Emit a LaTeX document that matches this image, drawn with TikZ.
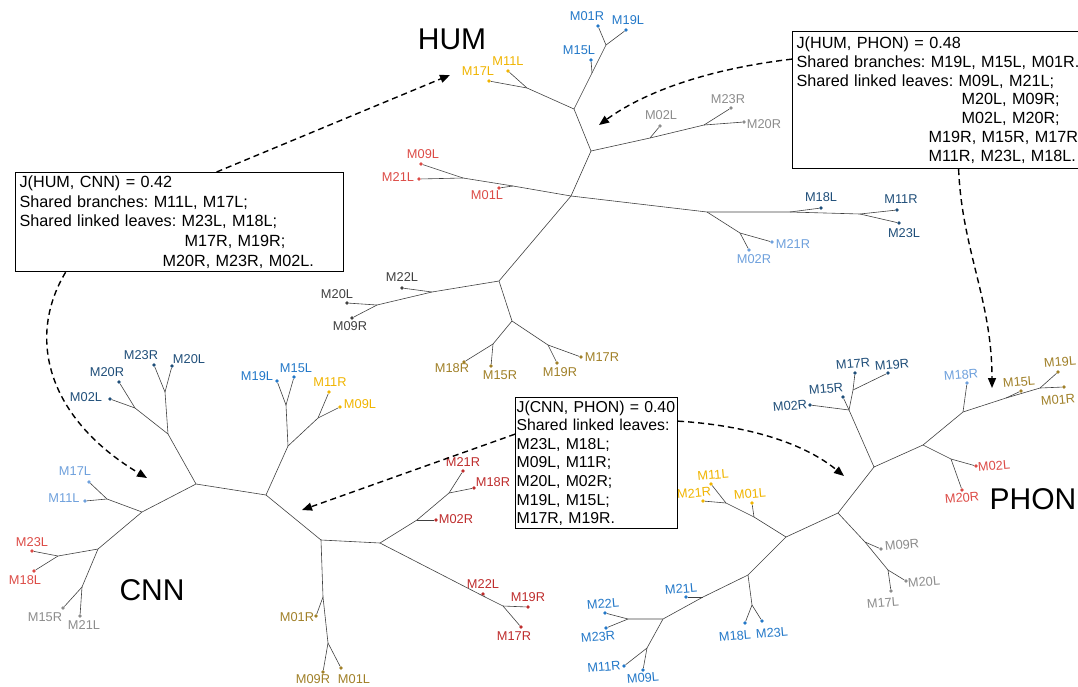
\documentclass[tikz,border=0pt]{standalone}
\usepackage{fontspec}
\setmainfont{Liberation Sans}
\usetikzlibrary{arrows.meta}
\frenchspacing

\definecolor{hblue}{RGB}{35,120,200}
\definecolor{dblue}{RGB}{31,78,121}
\definecolor{lblue}{RGB}{110,160,220}
\definecolor{yel}{RGB}{240,180,0}
\definecolor{gry}{RGB}{140,140,140}
\definecolor{dgry}{RGB}{64,64,64}
\definecolor{lred}{RGB}{220,75,70}
\definecolor{dred}{RGB}{190,45,45}
\definecolor{olv}{RGB}{160,128,40}

\tikzset{
  branch/.style={draw=black!75, line width=0.6pt},
  leafdot/.style={circle, fill=#1, inner sep=0pt, minimum size=3.6pt},
  leaftxt/.style={text=#1, inner sep=0pt, font=\fontsize{12.8}{14}\selectfont},
  treename/.style={inner sep=0pt, font=\fontsize{30}{34}\selectfont},
  jbox/.style={draw, line width=1.2pt, rectangle, align=left, inner xsep=4pt, inner ysep=3pt, anchor=north west, font=\fontsize{16.2}{19.8}\selectfont},
  link/.style={dash pattern=on 6pt off 4pt, line width=1.4pt, -{Triangle[length=10pt,width=8pt]}}
}

\begin{document}
\begin{tikzpicture}[x=1pt,y=-1pt]
\useasboundingbox (0,0) rectangle (1078,686);

% HUM tree
\foreach \n/\x/\y/\lx/\ly/\col in {
  M01R/598/26/587/16/hblue, M19L/626/30/628/20/hblue, M15L/591/60/579/50/hblue,
  M11L/508/71/508/61/yel, M17L/489/81/478/71/yel,
  M02L/660/126/661/115/gry, M23R/731/108/728/99/gry, M20R/744/122/764/124/gry,
  M09L/421/164/423/154/lred, M21L/419/179/398/177/lred, M01L/499/188/487/195/lred,
  M18L/821/208/821/197/dblue, M11R/897/210/901/199/dblue, M23L/899/223/904/233/dblue,
  M21R/772/242/793/244/lblue, M02R/749/250/754/259/lblue,
  M22L/402/288/402/277/dgry, M20L/347/303/337/294/dgry, M09R/352/318/350/326/dgry,
  M18R/464/362/452/368/olv, M15R/491/366/500/375/olv, M19R/557/363/560/372/olv,
  M17R/581/357/602/357/olv}
{
  \node[leafdot=\col] (h\n) at (\x,\y) {};
  \node[leaftxt=\col] (h\n-t) at (\lx,\ly) {\n};
}
\coordinate (h1) at (574,109);
\coordinate (h2) at (606,45);
\coordinate (h3) at (592,73);
\coordinate (hy) at (527,88);
\coordinate (h4) at (591,151);
\coordinate (h5) at (650,138);
\coordinate (h6) at (704,125);
\coordinate (h7) at (571,196);
\coordinate (hr) at (463,178);
\coordinate (hr2) at (513,186);
\coordinate (h8) at (707,212);
\coordinate (hlb) at (740,233);
\coordinate (h9) at (790,212);
\coordinate (h10) at (860,214);
\coordinate (h11) at (499,281);
\coordinate (hg1) at (432,292);
\coordinate (hg2) at (377,305);
\coordinate (h12) at (512,321);
\coordinate (ho1) at (493,344);
\coordinate (ho2) at (548,345);
\draw[branch] (hM17L) -- (hy) -- (h1) -- (h3) -- (h2) -- (hM01R);
\draw[branch] (hy) -- (hM11L);
\draw[branch] (h2) -- (hM19L);
\draw[branch] (h3) -- (hM15L);
\draw[branch] (h1) -- (h4) -- (h5) -- (h6) -- (hM23R);
\draw[branch] (h6) -- (hM20R);
\draw[branch] (h5) -- (hM02L);
\draw[branch] (h4) -- (h7);
\draw[branch] (hM21L) -- (hr) -- (hr2) -- (h7) -- (h8) -- (h9) -- (h10) -- (hM11R);
\draw[branch] (hr) -- (hM09L);
\draw[branch] (hr2) -- (hM01L);
\draw[branch] (h10) -- (hM23L);
\draw[branch] (h9) -- (hM18L);
\draw[branch] (h8) -- (hlb) -- (hM21R);
\draw[branch] (hlb) -- (hM02R);
\draw[branch] (h7) -- (h11) -- (hg1) -- (hg2) -- (hM20L);
\draw[branch] (hg2) -- (hM09R);
\draw[branch] (hg1) -- (hM22L);
\draw[branch] (h11) -- (h12) -- (ho1) -- (hM18R);
\draw[branch] (ho1) -- (hM15R);
\draw[branch] (h12) -- (ho2) -- (hM19R);
\draw[branch] (ho2) -- (hM17R);
\node[treename] (humname) at (452,39) {HUM};

% CNN tree
\foreach \n/\x/\y/\lx/\ly/\col in {
  M23R/154/365/141/355/dblue, M20L/172/366/189/359/dblue, M20R/119/382/107/372/dblue,
  M02L/110/399/86/397/dblue,
  M17L/89/482/75/471/lblue, M11L/85/501/64/498/lblue,
  M23L/32/551/32/542/lred, M18L/34/571/25/580/lred,
  M15R/63/608/45/617/gry, M21L/80/616/84/625/gry,
  M19L/277/381/257/376/hblue, M15L/294/377/296/368/hblue,
  M11R/329/392/330/382/yel, M09L/340/407/360/404/yel,
  M01R/316/616/297/617/olv, M09R/323/672/313/679/olv, M01L/341/668/354/679/olv,
  M02R/436/520/456/519/dred, M21R/463/471/463/462/dred, M18R/474/488/493/482/dred,
  M22L/483/594/483/584/dred, M19R/528/607/528/597/dred, M17R/521/627/514/636/dred}
{
  \node[leafdot=\col] (c\n) at (\x,\y) {};
  \node[leaftxt=\col] (c\n-t) at (\lx,\ly) {\n};
}
\coordinate (cA) at (196,484);
\coordinate (cB) at (266,495);
\coordinate (cC) at (168,434);
\coordinate (cC1) at (165,392);
\coordinate (cC2) at (135,408);
\coordinate (cD) at (142,512);
\coordinate (cD1) at (107,499);
\coordinate (cE) at (98,549);
\coordinate (cE1) at (58,556);
\coordinate (cE2) at (82,587);
\coordinate (cB1) at (288,446);
\coordinate (cB2) at (286,405);
\coordinate (cB3) at (318,418);
\coordinate (cF) at (321,540);
\coordinate (cF1) at (323,597);
\coordinate (cF2) at (328,643);
\coordinate (cG) at (380,543);
\coordinate (cG1) at (417,520);
\coordinate (cG2) at (449,493);
\coordinate (cG3) at (485,597);
\coordinate (cG4) at (503,606);
\draw[branch] (cB) -- (cA) -- (cC) -- (cC1) -- (cM23R);
\draw[branch] (cC1) -- (cM20L);
\draw[branch] (cC) -- (cC2) -- (cM20R);
\draw[branch] (cC2) -- (cM02L);
\draw[branch] (cA) -- (cD) -- (cD1) -- (cM17L);
\draw[branch] (cD1) -- (cM11L);
\draw[branch] (cD) -- (cE) -- (cE1) -- (cM23L);
\draw[branch] (cE1) -- (cM18L);
\draw[branch] (cE) -- (cE2) -- (cM15R);
\draw[branch] (cE2) -- (cM21L);
\draw[branch] (cB) -- (cB1) -- (cB2) -- (cM19L);
\draw[branch] (cB2) -- (cM15L);
\draw[branch] (cB1) -- (cB3) -- (cM11R);
\draw[branch] (cB3) -- (cM09L);
\draw[branch] (cB) -- (cF) -- (cF1) -- (cF2) -- (cM09R);
\draw[branch] (cF2) -- (cM01L);
\draw[branch] (cF1) -- (cM01R);
\draw[branch] (cF) -- (cG) -- (cG1) -- (cG2) -- (cM21R);
\draw[branch] (cG2) -- (cM18R);
\draw[branch] (cG1) -- (cM02R);
\draw[branch] (cG) -- (cG3) -- (cG4) -- (cM19R);
\draw[branch] (cG4) -- (cM17R);
\draw[branch] (cG3) -- (cM22L);
\node[treename] (cnnname) at (152,590) {CNN};

% PHON tree
\foreach \n/\x/\y/\lx/\ly/\col in {
  M02R/810/405/790/406/dblue, M15R/843/397/826/389/dblue, M17R/855/373/853/364/dblue,
  M19R/888/373/892/365/dblue,
  M18R/967/383/961/375/lblue,
  M15L/1021/391/1019/382/olv, M19L/1058/372/1060/362/olv, M01R/1064/387/1058/400/olv,
  M02L/976/466/994/466/lred, M20R/962/490/962/498/lred,
  M09R/881/549/902/545/gry, M20L/906/581/924/582/gry, M17L/891/591/883/603/gry,
  M11L/711/484/713/475/yel, M21R/703/501/694/493/yel, M01L/752/503/750/494/yel,
  M21L/686/597/681/589/hblue, M22L/605/613/603/604/hblue, M23R/606/628/598/637/hblue,
  M11R/624/666/604/667/hblue, M09L/643/670/643/678/hblue, M18L/745/623/735/636/hblue,
  M23L/762/621/772/633/hblue}
{
  \node[leafdot=\col] (p\n) at (\x,\y) {};
  \node[leaftxt=\col, rotate=5] (p\n-t) at (\lx,\ly) {\n};
}
\coordinate (p1) at (874,467);
\coordinate (p2) at (923,445);
\coordinate (p3) at (838,513);
\coordinate (p4) at (786,537);
\coordinate (pA) at (849,410);
\coordinate (pB) at (853,390);
\coordinate (pC) at (963,412);
\coordinate (pD) at (1006,398);
\coordinate (pE) at (1040,388);
\coordinate (pF) at (951,459);
\coordinate (pG) at (865,542);
\coordinate (pH) at (888,570);
\coordinate (pI) at (754,517);
\coordinate (pJ) at (726,503);
\coordinate (pK) at (748,575);
\coordinate (pL) at (752,605);
\coordinate (pM) at (703,597);
\coordinate (pN) at (663,619);
\coordinate (pO) at (628,619);
\coordinate (pP) at (647,648);
\draw[branch] (p2) -- (p1) -- (pA) -- (pB) -- (pM17R);
\draw[branch] (pB) -- (pM19R);
\draw[branch] (pA) -- (pM02R);
\draw[branch] (pA) -- (pM15R);
\draw[branch] (p2) -- (pC) -- (pD) -- (pE) -- (pM19L);
\draw[branch] (pE) -- (pM01R);
\draw[branch] (pD) -- (pM15L);
\draw[branch] (pC) -- (pM18R);
\draw[branch] (p2) -- (pF) -- (pM02L);
\draw[branch] (pF) -- (pM20R);
\draw[branch] (p1) -- (p3) -- (pG) -- (pH) -- (pM20L);
\draw[branch] (pH) -- (pM17L);
\draw[branch] (pG) -- (pM09R);
\draw[branch] (p3) -- (p4) -- (pI) -- (pJ) -- (pM11L);
\draw[branch] (pJ) -- (pM21R);
\draw[branch] (pI) -- (pM01L);
\draw[branch] (p4) -- (pK) -- (pL) -- (pM18L);
\draw[branch] (pL) -- (pM23L);
\draw[branch] (pK) -- (pM) -- (pN) -- (pO) -- (pM22L);
\draw[branch] (pO) -- (pM23R);
\draw[branch] (pM) -- (pM21L);
\draw[branch] (pN) -- (pP) -- (pM11R);
\draw[branch] (pP) -- (pM09L);
\node[treename] (phonname) at (1033,499) {PHON};

% similarity boxes
\node[jbox, text width=320pt, minimum height=99pt] (hcbox) at (15,172)
  {J(HUM, CNN) = 0.42\\
   Shared branches: M11L, M17L;\\
   Shared linked leaves: M23L, M18L;\\
   \hspace*{165pt}M17R, M19R;\\
   \hspace*{143pt}M20R, M23R, M02L.};
\node[jbox, text width=300pt, minimum height=137pt, font=\fontsize{16.2}{18.8}\selectfont] (hpbox) at (792,31)
  {J(HUM, PHON) = 0.48\\
   Shared branches: M19L, M15L, M01R.\\
   Shared linked leaves: M09L, M21L;\\
   \hspace*{165pt}M20L, M09R;\\
   \hspace*{165pt}M02L, M20R;\\
   \hspace*{132pt}M19R, M15R, M17R\\
   \hspace*{132pt}M11R, M23L, M18L.};
\node[jbox, text width=160pt, inner xsep=1pt, minimum height=131pt, font=\fontsize{15.8}{18.6}\selectfont] (cpbox) at (515,397)
  {J(CNN, PHON) = 0.40\\
   Shared linked leaves:\\
   M23L, M18L;\\
   M09L, M11R;\\
   M20L, M02R;\\
   M19L, M15L;\\
   M17R, M19R.};

% links between trees
\coordinate (humtipA) at (450,75);
\coordinate (cnntipA) at (147,478);
\coordinate (humtipB) at (599,125);
\coordinate (phontipA) at (992,388);
\coordinate (cnntipB) at (302,510);
\coordinate (phontipB) at (844,476);
\draw[link] ([xshift=37pt]hcbox.north) -- (humtipA);
\draw[link] ([xshift=-114pt]hcbox.south) .. controls (25,340) and (50,420) .. (cnntipA);
\draw[link] ([yshift=41pt]hpbox.west) .. controls (700,70) and (640,95) .. (humtipB);
\draw[link] ([xshift=12pt]hpbox.south) .. controls (962,250) and (992,300) .. (phontipA);
\draw[link] ([yshift=29pt]cpbox.west) -- (cnntipB);
\draw[link] ([yshift=42pt]cpbox.east) .. controls (740,425) and (800,440) .. (phontipB);
\end{tikzpicture}
\end{document}
